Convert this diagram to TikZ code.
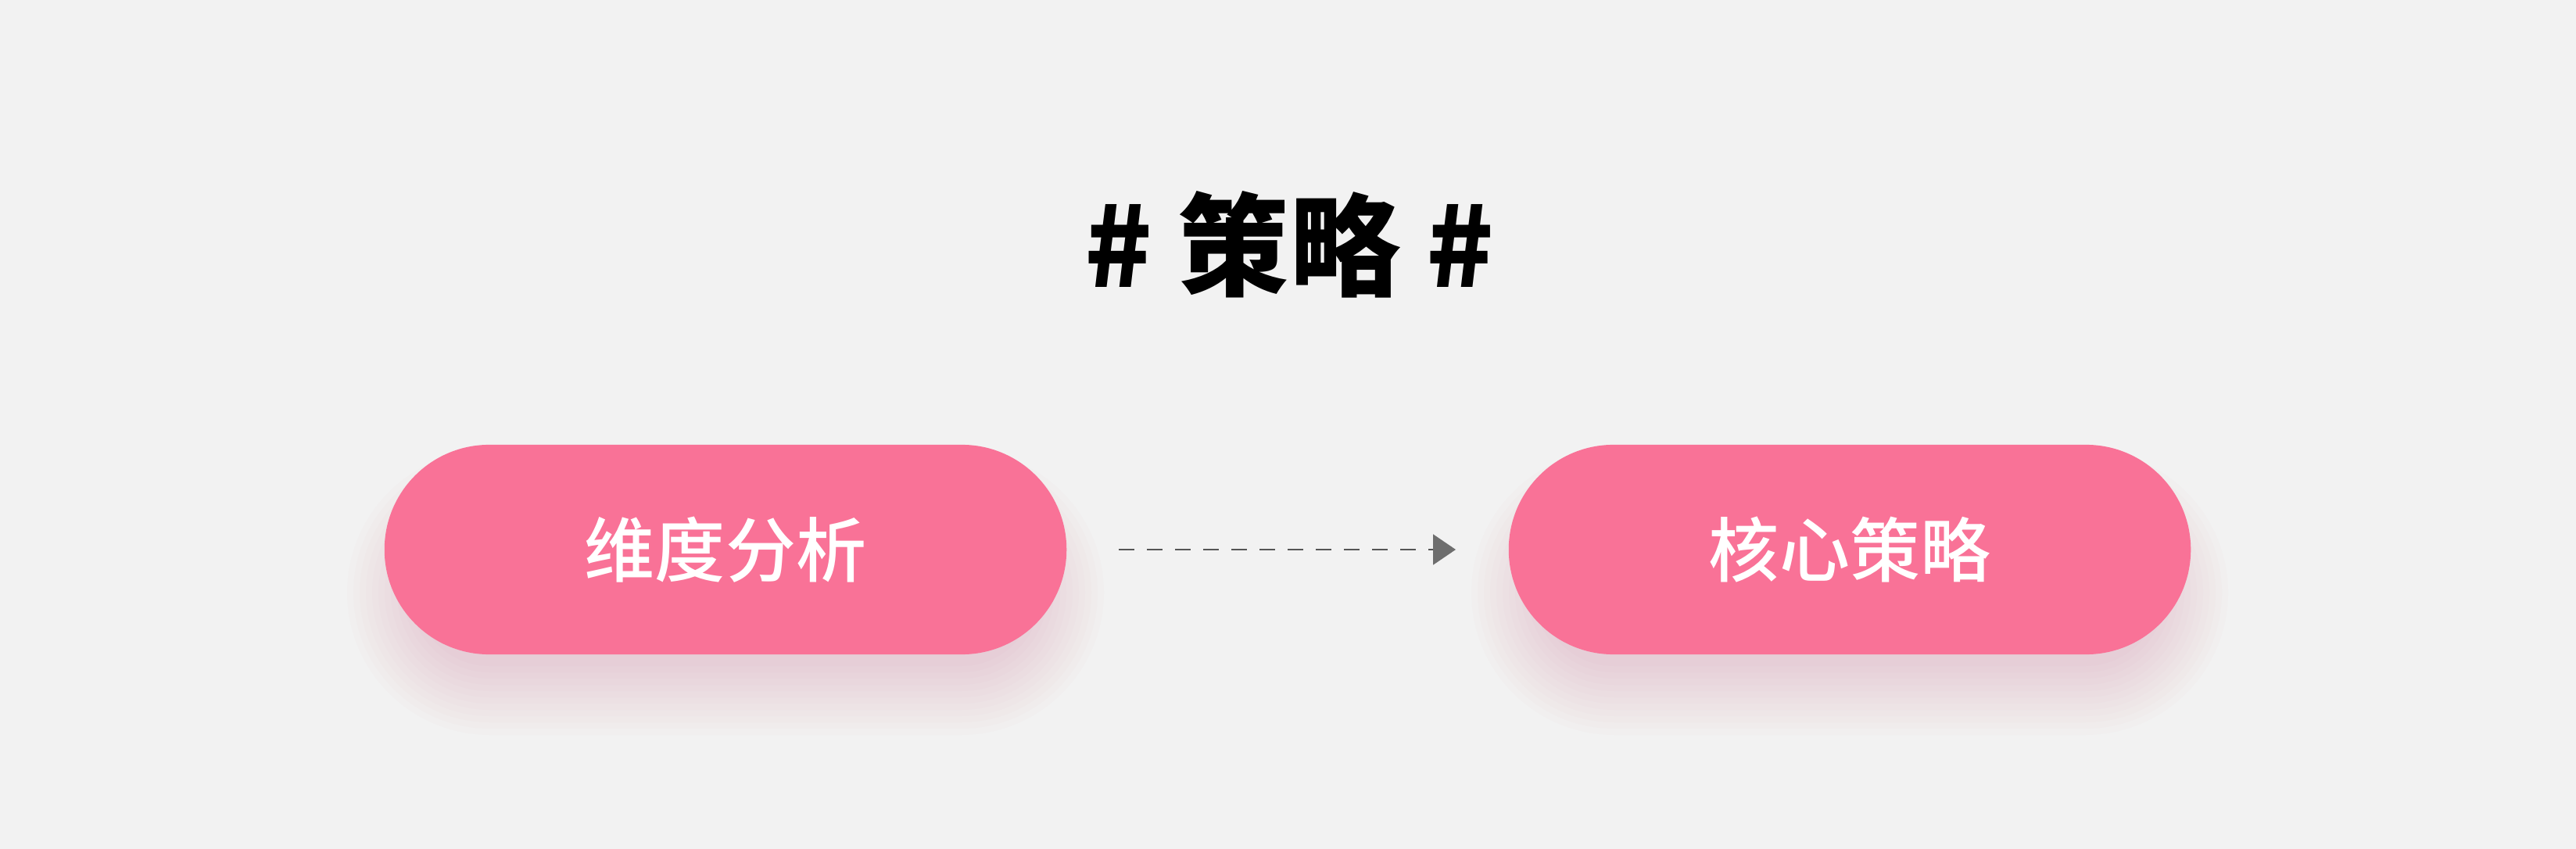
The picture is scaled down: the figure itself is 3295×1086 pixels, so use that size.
\documentclass[tikz,border=0pt]{standalone}
\usepackage{fontspec}
\usepackage{tikz}
\usetikzlibrary{positioning,arrows.meta}
\newfontfamily\cjk{Noto Sans CJK SC}
\newfontfamily\cjkmed{Noto Sans CJK SC Medium}
\definecolor{bgColor}{RGB}{242,242,242}
\definecolor{pillColor}{RGB}{249,114,151}
\definecolor{shadowColor}{RGB}{200,120,150}
\definecolor{dashColor}{RGB}{85,85,85}
\definecolor{tipColor}{RGB}{110,110,110}
\tikzstyle{canvas} = [x = 0.01cm, y = -0.01cm]
\tikzstyle{pill} = [fill=pillColor, rounded corners = 1.34cm, minimum width = 8.72cm, minimum height = 2.68cm, inner sep = 0, text=white, font=\cjkmed\fontsize{25.6}{30}\selectfont]
\tikzstyle{titleText} = [inner sep = 0, font=\cjk\bfseries\fontsize{40.5}{48}\selectfont]
\tikzstyle{shadowLayer} = [fill=shadowColor, opacity=0.022]
\tikzstyle{flowArrow} = [color=dashColor, line width = 0.02cm, dash pattern = on 0.2cm off 0.16cm, -{Triangle[length=0.29cm, width=0.39cm, fill=tipColor, color=tipColor]}, shorten <= 0.66cm, shorten >= 0.67cm]
\newcommand{\pillShadow}[1]{
  \foreach \k in {0,...,11} {
    \pgfmathsetmacro{\grow}{8 * \k}
    \pgfmathsetmacro{\rad}{(94 + \grow) / 100}
    \fill [shadowLayer, rounded corners = \rad cm] (#1 - 396 - \grow, 664 - \grow) rectangle (#1 + 396 + \grow, 852 + \grow);
  }
}

\begin{document}
\begin{tikzpicture}[canvas]
  \fill [bgColor] (0,0) rectangle (3295,1086);
  \useasboundingbox (0,0) rectangle (3295,1086);

  \pillShadow{928}
  \pillShadow{2366}

  \node [titleText] (title) at (1649,313) {\# 策略 \#};

  \node [pill] (analysis) at (928,703) {维度分析};
  \node [pill] (strategy) at (2366,703) {核心策略};

  \draw [flowArrow] (analysis.east) -- (strategy.west);
\end{tikzpicture}
\end{document}
